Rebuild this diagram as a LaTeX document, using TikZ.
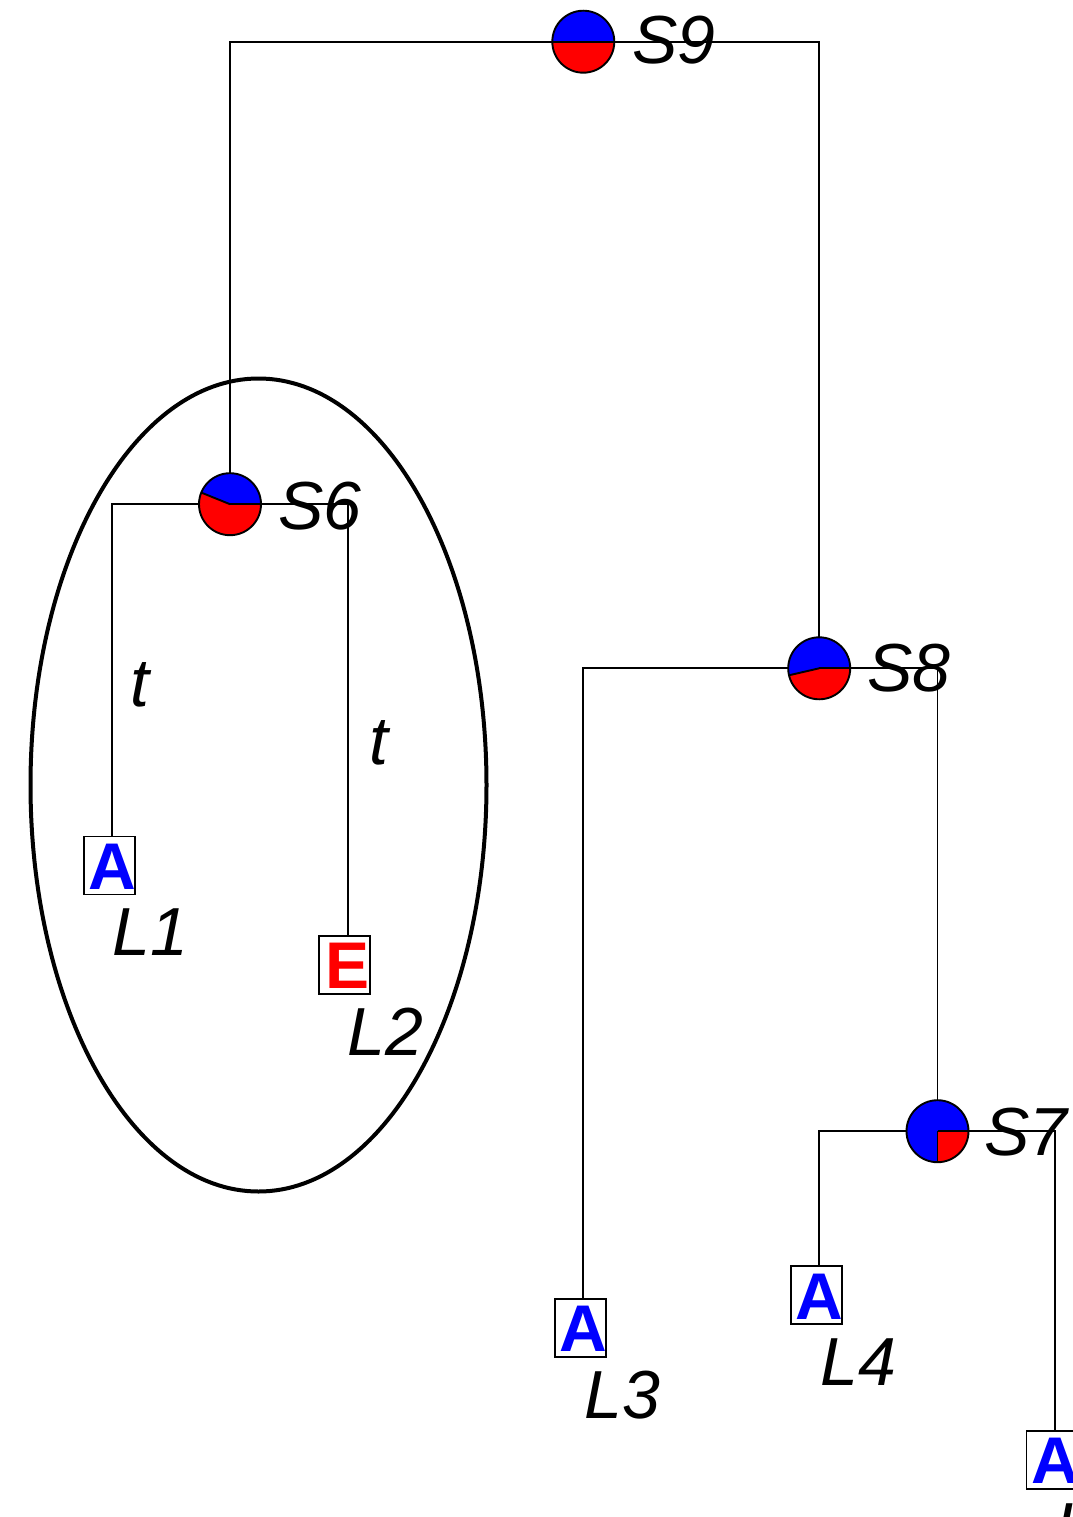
\documentclass[tikz,border=0pt]{standalone}
\usepackage{fontspec}
\setmainfont{Liberation Sans}
\usetikzlibrary{backgrounds,shapes.geometric}
\newcommand\mypie[2]{%
  \fill[blue] (#1.center) -- ++(0:31pt) arc[start angle=0, end angle=#2, radius=31pt] -- cycle;
  \fill[red] (#1.center) -- ++(#2:31pt) arc[start angle=#2, end angle=360, radius=31pt] -- cycle;
  \draw[pieline] (#1.center) -- ++(0:31pt);
  \draw[pieline] (#1.center) -- ++(#2:31pt);
  \draw[pieline] (#1.center) circle[radius=31pt];
}
\begin{document}
\begin{tikzpicture}[x=1pt,y=-1pt,
  lbl/.style={font=\fontsize{68}{68}\itshape\selectfont, inner sep=0pt},
  pienode/.style={circle, minimum size=62pt, inner sep=0pt},
  pieline/.style={line width=1.9pt, black},
  leafbox/.style={draw, fill=white, line width=1.9pt, minimum width=51pt, minimum height=58pt, inner sep=0pt},
  letterA/.style={font=\fontsize{66}{66}\bfseries\selectfont, text=blue, inner sep=0pt},
  letterE/.style={font=\fontsize{66}{66}\bfseries\selectfont, text=red, inner sep=0pt},
  edge/.style={line width=1.7pt, black}]
\useasboundingbox (0,0) rectangle (1072,1517);

% internal nodes
\node[pienode] (S9) at (583.3,41.7) {};
\node[pienode] (S6) at (230,504.2) {};
\node[pienode] (S8) at (819.2,668.3) {};
\node[pienode] (S7) at (937.5,1131.2) {};

% leaf boxes and letters
\node[leafbox] (L1b) at (109.2,865.5) {};
\node[letterA] (L1a) at (112,866.7) {A};
\node[leafbox] (L2b) at (344.5,965) {};
\node[letterE] (L2a) at (348,966) {E};
\node[leafbox] (L3b) at (580.3,1328) {};
\node[letterA] (L3a) at (583.3,1329) {A};
\node[leafbox] (L4b) at (816.2,1294.7) {};
\node[letterA] (L4a) at (819.3,1296.7) {A};
\node[leafbox] (L5b) at (1052,1460) {};
\node[letterA] (L5a) at (1055,1461) {A};

% highlight ellipse
\node[draw, ellipse, line width=4pt, minimum width=456pt, minimum height=813pt, inner sep=0pt] (grp) at (258.5,785) {};

\begin{pgfonlayer}{background}
\draw[edge] (S9.center) -| (S6.center);
\draw[edge] (S9.center) -| (S8.center);
\draw[edge] (S6.center) -| (L1a |- L1b.north);
\draw[edge] (S6.center) -| (L2a |- L2b.north);
\draw[edge] (S8.center) -| (L3a |- L3b.north);
\draw[edge] (S8.center) -| (S7.center);
\draw[edge] (S7.center) -| (L4a |- L4b.north);
\draw[edge] (S7.center) -| (L5a |- L5b.north);
\end{pgfonlayer}

% pies
\mypie{S9}{180}
\mypie{S6}{158}
\mypie{S8}{193}
\mypie{S7}{270}

% labels
\node[lbl, anchor=west] (tS9) at (632,40) {S9};
\node[lbl, anchor=west] (tS6) at (278,506) {S6};
\node[lbl, anchor=west] (tS8) at (867,668.3) {S8};
\node[lbl, anchor=west] (tS7) at (984,1132.5) {S7};

\node[lbl, anchor=north west] (tL1) at (112,909) {L1};
\node[lbl, anchor=north west] (tL2) at (347,1008) {L2};
\node[lbl, anchor=north west] (tL3) at (584,1370.7) {L3};
\node[lbl, anchor=north west] (tL4) at (820,1338) {L4};
\node[lbl, anchor=north west] (tL5) at (1055,1503) {L5};

\node[lbl, anchor=north west] (t1) at (130,662) {t};
\node[lbl, anchor=north west] (t2) at (369,720) {t};
\end{tikzpicture}
\end{document}
